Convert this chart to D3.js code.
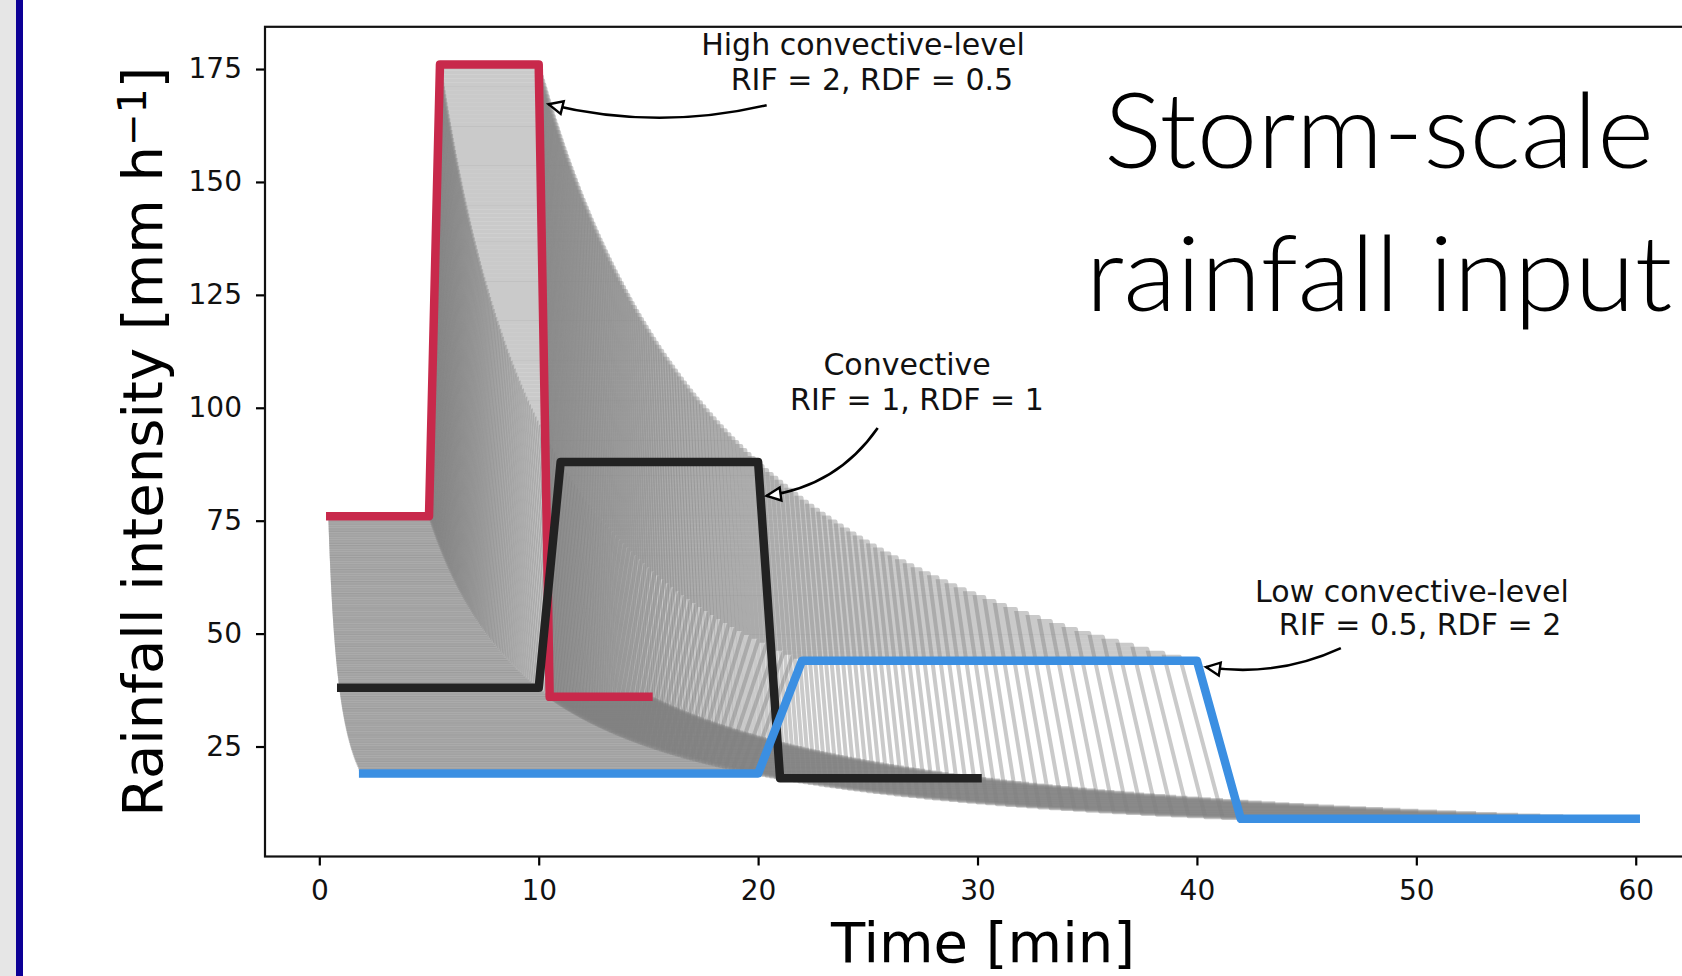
<!DOCTYPE html>
<html><head><meta charset="utf-8">
<script src="https://cdn.jsdelivr.net/npm/d3@7"></script>
<style>body{margin:0;background:#fff;overflow:hidden} svg{display:block}</style>
</head><body>
<svg id="c" width="1682" height="976"></svg>
<script>
// ---------------- data ----------------
// base convective hyetograph (RIF = 1, RDF = 1): one value per minute
const baseMinutes = [1,2,3,4,5,6,7,8,9,10,11,12,13,14,15,16,17,18,19,20,21,22,23,24,25,26,27,28,29,30];
const baseIntensity = [38,38,38,38,38,38,38,38,38,38,88,88,88,88,88,88,88,88,88,88,18,18,18,18,18,18,18,18,18,18];
// highlighted scenarios
const scenarioNames = ["High convective-level", "Convective", "Low convective-level"];
const scenarioRIF = [2, 1, 0.5];
const scenarioRDF = [0.5, 1, 2];
// ensemble of rainfall intensification factors (each member uses RDF = 1 / RIF)
const ensembleRIF = [
0.50,0.51,0.52,0.53,0.54,0.55,0.56,0.57,0.58,0.59,
0.60,0.61,0.62,0.63,0.64,0.65,0.66,0.67,0.68,0.69,
0.70,0.71,0.72,0.73,0.74,0.75,0.76,0.77,0.78,0.79,
0.80,0.81,0.82,0.83,0.84,0.85,0.86,0.87,0.88,0.89,
0.90,0.91,0.92,0.93,0.94,0.95,0.96,0.97,0.98,0.99,
1.00,1.01,1.02,1.03,1.04,1.05,1.06,1.07,1.08,1.09,
1.10,1.11,1.12,1.13,1.14,1.15,1.16,1.17,1.18,1.19,
1.20,1.21,1.22,1.23,1.24,1.25,1.26,1.27,1.28,1.29,
1.30,1.31,1.32,1.33,1.34,1.35,1.36,1.37,1.38,1.39,
1.40,1.41,1.42,1.43,1.44,1.45,1.46,1.47,1.48,1.49,
1.50,1.51,1.52,1.53,1.54,1.55,1.56,1.57,1.58,1.59,
1.60,1.61,1.62,1.63,1.64,1.65,1.66,1.67,1.68,1.69,
1.70,1.71,1.72,1.73,1.74,1.75,1.76,1.77,1.78,1.79,
1.80,1.81,1.82,1.83,1.84,1.85,1.86,1.87,1.88,1.89,
1.90,1.91,1.92,1.93,1.94,1.95,1.96,1.97,1.98,1.99,
2.00];
const xTicks = [0,10,20,30,40,50,60];
const yTicks = [25,50,75,100,125,150,175];
const xLabel = "Time [min]";
const titleLines = ["Storm-scale", "rainfall input"];

// ---------------- layout / style ----------------
const scenarioColors = ["#c8294b", "#222222", "#3b8fe2"];
const annotationText = [
  ["High convective-level", "RIF = 2, RDF = 0.5"],
  ["Convective", "RIF = 1, RDF = 1"],
  ["Low convective-level", "RIF = 0.5, RDF = 2"]
];
// per line: [centre time, baseline intensity]
const annotationPos = [
  [[24.78,178.0],[25.19,170.3]],
  [[26.79,107.2],[27.24,99.5]],
  [[49.80,57.0],[50.17,49.7]]
];
const arrowTail = [[20.39,167.0],[25.45,95.5],[46.56,46.8]];
const arrowTip  = [[10.45,167.2],[20.39,80.5],[40.41,42.6]];
const arrowRad  = [-0.12,-0.22,-0.15];

const box = {left:265, right:1701, top:26.8, bottom:856.5};
const svg = d3.select("#c");

svg.append("rect").attr("x",0).attr("y",0).attr("width",16).attr("height",976).attr("fill","#e6e6e6");
svg.append("rect").attr("x",16).attr("y",0).attr("width",7).attr("height",976).attr("fill","#0c0096");

const x = d3.scaleLinear().domain([-2.475, 62.975]).range([box.left, box.right]);
const y = d3.scaleLinear().domain([0.65, 184.35]).range([box.bottom, box.top]);

const line = d3.line().x(d => x(d[0])).y(d => y(d[1]));
function series(rif, rdf){
  return baseMinutes.map((m,i) => [m*rdf, baseIntensity[i]*rif]);
}

// ensemble
const gEns = svg.append("g");
ensembleRIF.forEach(rif => {
  gEns.append("path").attr("d", line(series(rif, 1/rif)))
    .attr("fill","none").attr("stroke","#808080").attr("stroke-opacity",0.42)
    .attr("stroke-width",4).attr("stroke-linejoin","round").attr("stroke-linecap","square");
});

// highlighted scenarios
scenarioNames.forEach((name,i) => {
  svg.append("path").attr("d", line(series(scenarioRIF[i], scenarioRDF[i])))
    .attr("fill","none").attr("stroke",scenarioColors[i]).attr("stroke-width",8.5)
    .attr("stroke-linejoin","round").attr("stroke-linecap","square");
});

// axes
const font = "DejaVu Sans, Liberation Sans, sans-serif";
const gx = svg.append("g").attr("transform",`translate(0,${box.bottom})`)
  .call(d3.axisBottom(x).tickValues(xTicks).tickSize(9).tickPadding(15).tickSizeOuter(0));
const gy = svg.append("g").attr("transform",`translate(${box.left},0)`)
  .call(d3.axisLeft(y).tickValues(yTicks).tickSize(9).tickPadding(14).tickSizeOuter(0));
[gx,gy].forEach(g => {
  g.select(".domain").remove();
  g.selectAll(".tick line").attr("stroke","#000").attr("stroke-width",2.2);
  g.selectAll(".tick text").attr("fill","#111").style("font-family",font).style("font-size","28px");
});
svg.append("rect").attr("x",box.left).attr("y",box.top)
  .attr("width",box.right-box.left).attr("height",box.bottom-box.top)
  .attr("fill","none").attr("stroke","#111").attr("stroke-width",2.2);

// axis labels
svg.append("text").attr("x",(box.left+box.right)/2).attr("y",962)
  .attr("text-anchor","middle").style("font-family",font).style("font-size","56px").attr("fill","#000")
  .text(xLabel);
const yl = svg.append("text").attr("transform",`translate(162,${(box.top+box.bottom)/2}) rotate(-90)`)
  .attr("text-anchor","middle").style("font-family",font).style("font-size","56px").attr("fill","#000");
yl.append("tspan").text("Rainfall intensity [mm h");
yl.append("tspan").attr("dy","-0.42em").style("font-size","39px").text("\u22121");
yl.append("tspan").attr("dy","0.30em").text("]");

// annotations
annotationText.forEach((lines,i) => {
  lines.forEach((t,j) => {
    svg.append("text").attr("x", x(annotationPos[i][j][0])).attr("y", y(annotationPos[i][j][1]))
      .attr("text-anchor","middle").style("font-family",font).style("font-size","30px").attr("fill","#111")
      .text(t);
  });
  const p0 = [x(arrowTail[i][0]), y(arrowTail[i][1])];
  const p2 = [x(arrowTip[i][0]), y(arrowTip[i][1])];
  const dx = p2[0]-p0[0], dy = p2[1]-p0[1];
  const c = [(p0[0]+p2[0])/2 + arrowRad[i]*(-dy), (p0[1]+p2[1])/2 + arrowRad[i]*dx];
  svg.append("path").attr("d",`M${p0[0]},${p0[1]}Q${c[0]},${c[1]} ${p2[0]},${p2[1]}`)
    .attr("fill","none").attr("stroke","#000").attr("stroke-width",2.6);
  const L = Math.hypot(p2[0]-c[0], p2[1]-c[1]);
  const u = [(p2[0]-c[0])/L, (p2[1]-c[1])/L], n = [-u[1], u[0]];
  const hl = 14, hw = 6.5;
  const b = [p2[0]-u[0]*hl, p2[1]-u[1]*hl];
  svg.append("path").attr("d",`M${p2[0]},${p2[1]}L${b[0]+n[0]*hw},${b[1]+n[1]*hw}L${b[0]-n[0]*hw},${b[1]-n[1]*hw}Z`)
    .attr("fill","#fff").attr("stroke","#000").attr("stroke-width",2.4).attr("stroke-linejoin","miter");
});

// slide title
const titleBase = [168, 311];
const titleWidth = [550, 587];
titleLines.forEach((t,i) => {
  svg.append("text").attr("x",1379).attr("y",titleBase[i]).attr("text-anchor","middle")
    .style("font-family","Lato, 'Open Sans', sans-serif").style("font-weight",300).style("font-size","104px")
    .attr("textLength",titleWidth[i]).attr("lengthAdjust","spacingAndGlyphs").attr("fill","#000")
    .text(t);
});
</script>
</body></html>
